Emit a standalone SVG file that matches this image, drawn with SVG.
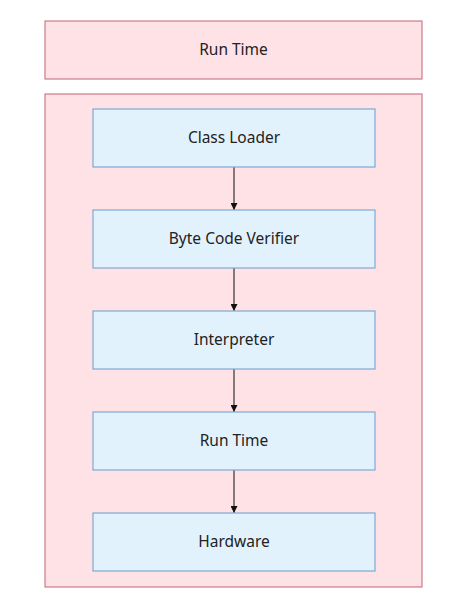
<svg xmlns="http://www.w3.org/2000/svg" width="470" height="604" viewBox="0 0 470 604">
<style>
.outer{fill:#ffe2e6;stroke:#cc7b88;stroke-width:1.2}
.node{fill:#e2f2fd;stroke:#7fa9d2;stroke-width:1.2}
.lbl{font-family:"Noto Sans","Open Sans",sans-serif;font-size:15.5px;fill:#222;text-anchor:middle;dominant-baseline:central}
.edge{stroke:#333;stroke-width:1.2;fill:none;marker-end:url(#ah)}
</style>
<defs>
<marker id="ah" viewBox="0 0 10 10" refX="10" refY="5" markerWidth="7" markerHeight="7" orient="auto" markerUnits="userSpaceOnUse">
<path d="M0,0 L10,5 L0,10 z" fill="#111"/>
</marker>
</defs>
<rect width="470" height="604" fill="#fff"/>
<g id="runtime-top">
<rect class="outer" x="45" y="21" width="377" height="58"/>
<text class="lbl" x="233.5" y="49">Run Time</text>
</g>
<g id="container">
<rect class="outer" x="45" y="94" width="377" height="493"/>
</g>
<g id="connectors">
<line class="edge" x1="234" y1="167" x2="234" y2="210"/>
<line class="edge" x1="234" y1="268" x2="234" y2="311"/>
<line class="edge" x1="234" y1="369" x2="234" y2="412"/>
<line class="edge" x1="234" y1="470" x2="234" y2="513"/>
</g>
<g id="class-loader">
<rect class="node" x="93" y="109" width="282" height="58"/>
<text class="lbl" x="234" y="137">Class Loader</text>
</g>
<g id="byte-code-verifier">
<rect class="node" x="93" y="210" width="282" height="58"/>
<text class="lbl" x="234" y="238">Byte Code Verifier</text>
</g>
<g id="interpreter">
<rect class="node" x="93" y="311" width="282" height="58"/>
<text class="lbl" x="234" y="339">Interpreter</text>
</g>
<g id="run-time">
<rect class="node" x="93" y="412" width="282" height="58"/>
<text class="lbl" x="234" y="440">Run Time</text>
</g>
<g id="hardware">
<rect class="node" x="93" y="513" width="282" height="58"/>
<text class="lbl" x="234" y="541">Hardware</text>
</g>
</svg>
